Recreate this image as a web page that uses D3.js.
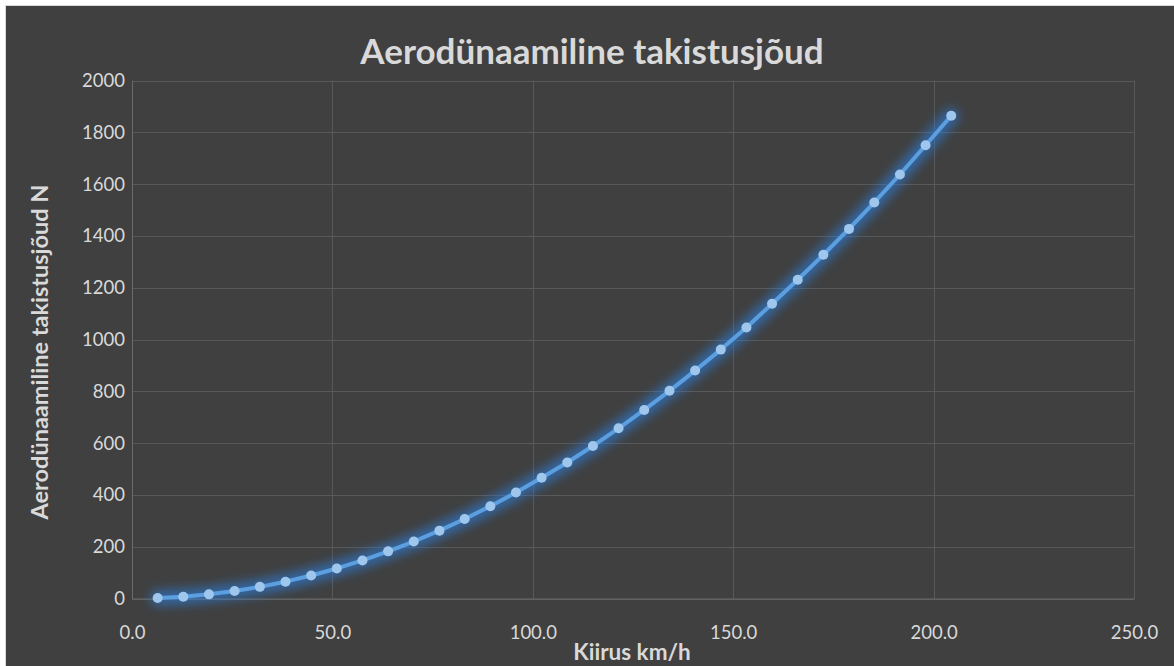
<!DOCTYPE html>
<html>
<head>
<meta charset="utf-8">
<script src="https://cdn.jsdelivr.net/npm/d3@7"></script>
<style>
  html, body { margin: 0; padding: 0; background: #ffffff; }
  svg { display: block; }
</style>
</head>
<body>
<svg id="chart" width="1174" height="666"></svg>
<script>
// Speed (km/h) and aerodynamic drag force (N)
const speedKmh = [6.4, 12.8, 19.2, 25.6, 31.9, 38.3, 44.7, 51.1, 57.5, 63.9, 70.3, 76.7,
  83.0, 89.4, 95.8, 102.2, 108.6, 115.0, 121.4, 127.8, 134.1, 140.5, 146.9, 153.3,
  159.7, 166.1, 172.5, 178.9, 185.2, 191.6, 198.0, 204.4];
const dragForceN = [2, 7, 16, 29, 45, 65, 89, 116, 147, 182, 220, 262,
  307, 356, 409, 466, 525, 589, 657, 728, 802, 880, 961, 1046,
  1138, 1231, 1327, 1427, 1529, 1637, 1750, 1864];
const xTicks = [0, 50, 100, 150, 200, 250];
const yTicks = [0, 200, 400, 600, 800, 1000, 1200, 1400, 1600, 1800, 2000];

const chartTitle = "Aerodünaamiline takistusjõud";
const xTitle = "Kiirus km/h";
const yTitle = "Aerodünaamiline takistusjõud N";

const W = 1174, H = 666;
const plot = { left: 132, right: 1134, top: 80.5, bottom: 598.5 };
const FONT = "Lato, 'Open Sans', sans-serif";

const svg = d3.select("#chart");

// soft glow around the series line
const defs = svg.append("defs");
const glow = defs.append("filter").attr("id", "glow")
  .attr("x", "-20%").attr("y", "-20%").attr("width", "140%").attr("height", "140%");
glow.append("feGaussianBlur").attr("in", "SourceGraphic").attr("stdDeviation", 5.5);

// chart area
svg.append("rect")
  .attr("x", 5.5).attr("y", 5.5)
  .attr("width", W + 10).attr("height", H + 10)
  .attr("fill", "#404040")
  .attr("stroke", "#d9d9d9").attr("stroke-width", 1);

const x = d3.scaleLinear().domain([0, 250]).range([plot.left, plot.right]);
const y = d3.scaleLinear().domain([0, 2000]).range([plot.bottom, plot.top]);

// gridlines
const grid = svg.append("g");
grid.selectAll("line.h").data(yTicks).join("line")
  .attr("x1", plot.left).attr("x2", plot.right)
  .attr("y1", d => Math.round(y(d)) + 0.5).attr("y2", d => Math.round(y(d)) + 0.5)
  .attr("stroke", "#595959").attr("stroke-width", 1);
grid.selectAll("line.v").data(xTicks).join("line")
  .attr("y1", plot.top).attr("y2", plot.bottom)
  .attr("x1", d => Math.round(x(d)) + 0.5).attr("x2", d => Math.round(x(d)) + 0.5)
  .attr("stroke", "#595959").attr("stroke-width", 1);

// axes
const xAxis = d3.axisBottom(x).tickValues(xTicks).tickSize(0).tickPadding(27)
  .tickFormat(d3.format(".1f"));
const yAxis = d3.axisLeft(y).tickValues(yTicks).tickSize(0).tickPadding(7)
  .tickFormat(d3.format("d"));

const gx = svg.append("g").attr("transform", `translate(0,${plot.bottom})`).call(xAxis);
const gy = svg.append("g").attr("transform", `translate(${plot.left},0)`).call(yAxis);
[gx, gy].forEach(g => {
  g.select(".domain").attr("stroke", "#6a6a6a").attr("stroke-width", 1);
  g.selectAll("text").attr("fill", "#d9d9d9")
    .style("font-family", FONT).style("font-size", "18.5px");
});

// series
const pts = speedKmh.map((s, i) => ({ s, f: dragForceN[i] }));
const line = d3.line().x(d => x(d.s)).y(d => y(d.f));

svg.append("path").datum(pts)
  .attr("d", line).attr("fill", "none")
  .attr("stroke", "#2b84ea").attr("stroke-width", 15)
  .attr("stroke-linejoin", "round").attr("stroke-linecap", "round")
  .attr("opacity", 0.6).attr("filter", "url(#glow)");

svg.append("path").datum(pts)
  .attr("d", line).attr("fill", "none")
  .attr("stroke", "#5b9fe0").attr("stroke-width", 4)
  .attr("stroke-linejoin", "round").attr("stroke-linecap", "round");

svg.append("g").selectAll("circle").data(pts).join("circle")
  .attr("cx", d => x(d.s)).attr("cy", d => y(d.f)).attr("r", 5)
  .attr("fill", "#9fc7ee");

// titles
svg.append("text")
  .attr("x", 592).attr("y", 64)
  .attr("text-anchor", "middle")
  .attr("fill", "#d9d9d9")
  .style("font-family", FONT).style("font-weight", "bold").style("font-size", "35px")
  .text(chartTitle);

svg.append("text")
  .attr("x", 632).attr("y", 660)
  .attr("text-anchor", "middle")
  .attr("fill", "#d9d9d9")
  .style("font-family", FONT).style("font-weight", "bold").style("font-size", "22.5px")
  .text(xTitle);

svg.append("text")
  .attr("transform", `translate(48,352) rotate(-90)`)
  .attr("text-anchor", "middle")
  .attr("fill", "#d9d9d9")
  .style("font-family", FONT).style("font-weight", "bold").style("font-size", "23.5px")
  .text(yTitle);
</script>
</body>
</html>
